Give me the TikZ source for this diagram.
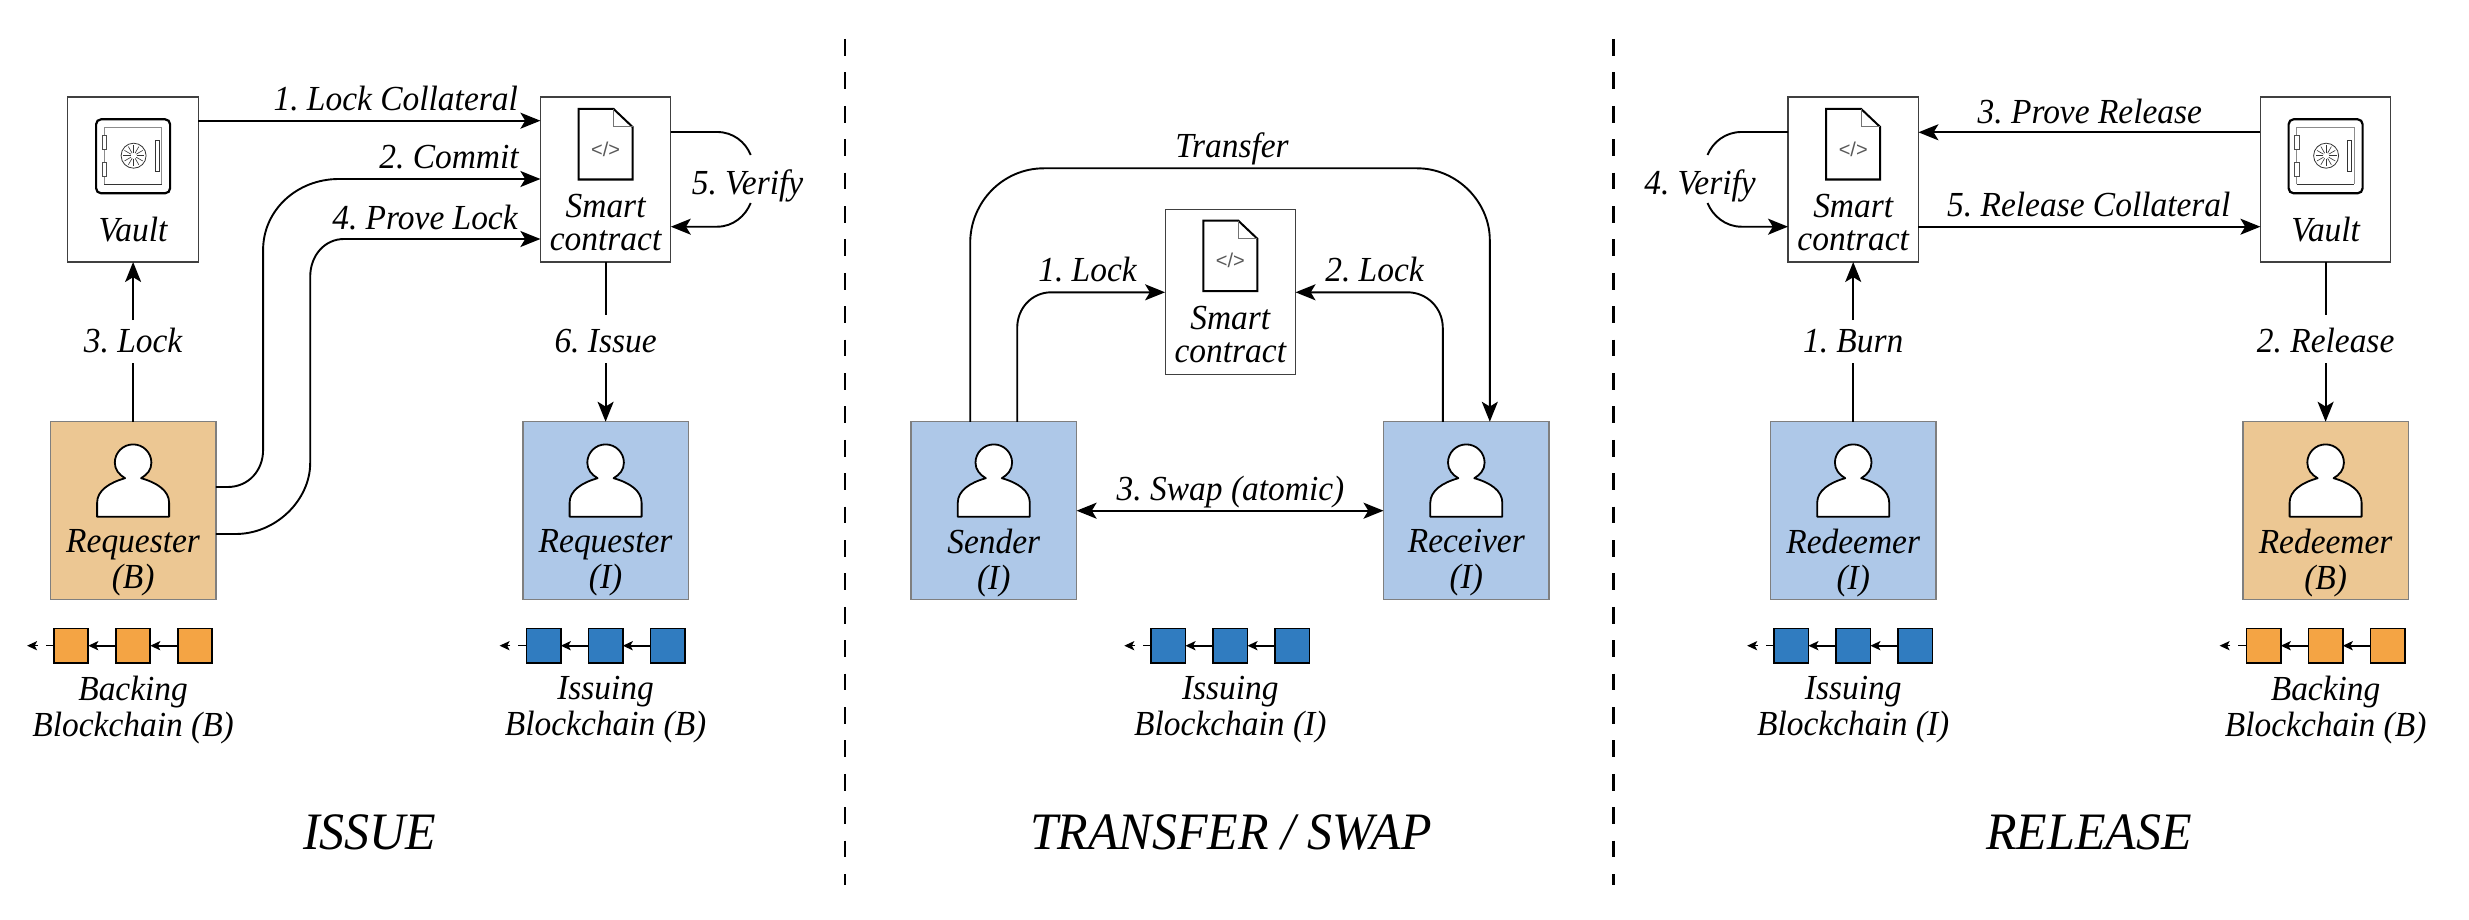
\documentclass[tikz,border=0pt]{standalone}
\usepackage{fontspec}
\setmainfont{Liberation Serif}[FakeStretch=0.95]
\newfontfamily\codefont{Liberation Sans}
\usetikzlibrary{arrows.meta,calc}
\definecolor{orangebox}{HTML}{ECC793}
\definecolor{bluebox}{HTML}{AEC8E8}
\definecolor{orangeblock}{HTML}{F4A444}
\definecolor{blueblock}{HTML}{307CC0}
\definecolor{edgegray}{HTML}{7F7F7F}
\tikzset{
  x=0.5pt,y=-0.5pt,
  bigtip/.tip={Stealth[length=10pt,width=8pt,inset=2.4pt]},
  smalltip/.tip={Stealth[length=5pt,width=4.6pt,inset=1.2pt]},
  conn/.style={line width=0.95pt,draw=black},
  arr/.style={conn,-{bigtip}},
  darr/.style={conn,{bigtip}-{bigtip}},
  txt/.style={inner sep=0pt,outer sep=0pt,align=center,font=\fontsize{17.6}{16.65}\selectfont\itshape},
  vlabelA/.style={inner sep=0pt,outer sep=0pt,font=\fontsize{17.6}{16.65}\selectfont\itshape,text height=16pt,text depth=5.5pt},
  vlabelB/.style={inner sep=0pt,outer sep=0pt,font=\fontsize{17.6}{16.65}\selectfont\itshape,text height=18.8pt,text depth=5.2pt},
  title/.style={inner sep=0pt,font=\fontsize{26.3}{30}\selectfont\itshape},
  personbox/.style={rectangle,inner sep=0pt,outer sep=0pt,minimum width=82.8pt,minimum height=88.75pt,draw=edgegray,line width=0.7pt,fill=#1},
  whitebox/.style={rectangle,inner sep=0pt,outer sep=0pt,minimum width=65.2pt,minimum height=82.5pt,draw=black!75,line width=0.55pt,fill=white},
  block/.style={rectangle,inner sep=0pt,outer sep=0pt,minimum size=17.2pt,draw=black,line width=0.9pt,fill=#1},
  chainarrow/.style={line width=0.85pt,-{smalltip}},
  divider/.style={line width=1.3pt,dash pattern=on 8.4pt off 8.3pt},
  personshape/.style={draw=black,line width=0.9pt,fill=white,line join=round},
}
\newcommand\personicon[1]{%
  \begin{scope}[shift={(#1,462.7)}]
    \path[personshape] (-36,54) -- (-36,40) .. controls (-36,28) and (-24,20) .. (-8,15.5)
      .. controls (-14,12) and (-18.3,7) .. (-18.3,0)
      .. controls (-18.3,-10.1) and (-10.1,-18.3) .. (0,-18.3)
      .. controls (10.1,-18.3) and (18.3,-10.1) .. (18.3,0)
      .. controls (18.3,7) and (14,12) .. (8,15.5)
      .. controls (24,20) and (36,28) .. (36,40) -- (36,54) -- cycle;
  \end{scope}}
\newcommand\docicon[3]{%
  \begin{scope}[shift={(#2,#3)}]
    \draw[line width=1pt,line join=miter] (8,0) -- (-27,0) -- (-27,70.5) -- (27,70.5) -- (27,18) -- cycle;
    \draw[line width=0.5pt,draw=black!55] (8,0) -- (8,18) -- (27,18);
    \node[inner sep=0pt,text=black!65,font=\fontsize{10}{10}\selectfont\codefont] (#1) at (0,40) {</>};
  \end{scope}}
\newcommand\safeicon[1]{%
  \begin{scope}[shift={(#1,119.3)}]
    \draw[line width=1.1pt,rounded corners=2.5pt] (-37,0) rectangle (37,74);
    \draw[line width=0.5pt,draw=black!45] (-29,65) -- (-29,8.4) -- (28.5,8.4) -- (28.5,65);
    \draw[line width=0.5pt,draw=black!80] (-29,65) -- (28.5,65);
    \draw[line width=0.35pt,draw=black!70,fill=white] (-31,16.4) rectangle (-26.5,29.7);
    \draw[line width=0.35pt,draw=black!70,fill=white] (-31,43.4) rectangle (-26.5,57.4);
    \draw[line width=0.35pt,draw=black!80,fill=white] (21.8,21.4) rectangle (26.1,52.4);
    \draw[line width=0.4pt,draw=black!80] (0.5,36.4) circle[radius=12.5];
    \foreach \a in {0,30,...,330}
      \draw[line width=0.3pt,draw=black!80] ($(0.5,36.4)+(\a:3)$) -- ($(0.5,36.4)+(\a:10.5)$);
  \end{scope}}
\newcommand\chain[3]{%
  \node[block=#3] (#1a) at (#2-62,645.7) {};
  \node[block=#3] (#1b) at (#2,645.7) {};
  \node[block=#3] (#1c) at (#2+62,645.7) {};
  \coordinate (#1t) at (#2-106,645.7);
  \draw[chainarrow] (#1c.west) -- (#1b.east);
  \draw[chainarrow] (#1b.west) -- (#1a.east);
  \draw[line width=0.6pt,-{smalltip},dash pattern=on 4pt off 4pt] (#1a.west) -- (#1t);}
\begin{document}
\frenchspacing
\begin{tikzpicture}
\useasboundingbox (0,0) rectangle (2469,920);
\fill[white] (0,0) rectangle (2469,920);

% dividers
\coordinate (d1a) at (845,39); \coordinate (d1b) at (845,885);
\coordinate (d2a) at (1613.5,39); \coordinate (d2b) at (1613.5,885);
\draw[divider] (d1a) -- (d1b);
\draw[divider] (d2a) -- (d2b);

%%% ISSUE
\node[whitebox] (vaultA) at (133.1,179.5) {};
\node[whitebox] (scA) at (605.6,179.5) {};
\node[personbox=orangebox] (reqB) at (133.1,510.5) {};
\node[personbox=bluebox] (reqI) at (605.6,510.5) {};
\safeicon{133.1}
\docicon{codeA}{605.6}{109}
\personicon{133.1}
\personicon{605.6}
\node[txt] (vaultAt) at (133.1,234) {\strut Vault};
\node[txt] (scAt) at (605.6,227) {\strut Smart\\\strut contract};
\node[txt] (reqBt) at (133.1,564) {\strut Requester\\\strut (B)};
\node[txt] (reqIt) at (605.6,564) {\strut Requester\\\strut (I)};
\chain{cA}{133.1}{orangeblock}
\chain{cB}{605.6}{blueblock}
\node[txt] (chAt) at (133.1,711) {\strut Backing\\\strut Blockchain (B)};
\node[txt] (chBt) at (605.6,711) {\strut Issuing\\\strut Blockchain (B)};
\node[title] (tIssue) at (369.8,832) {ISSUE};

\node[txt] (l1) at (395.7,103) {\strut 1. Lock Collateral};
\node[txt] (l2) at (449,162) {\strut 2. Commit};
\node[txt] (l4) at (425,222) {\strut 4. Prove Lock};
\node[txt] (l5) at (747.5,187) {\strut 5. Verify};
\node[vlabelA] (l3) at (133.1,341.5) {3. Lock};
\node[vlabelB] (l6) at (605.6,339) {6. Issue};

\draw[arr] (vaultA.east |- 0,120.7) -- (scA.west |- 0,120.7);
\draw[arr] (reqB.east |- 0,487) -- (227.6,487) .. controls (249,487) and (263.1,470) .. (263.1,450)
  -- (263.1,250) .. controls (263.1,210) and (297,179) .. (338.8,179) -- (scA.west |- 0,179);
\draw[arr] (reqB.east |- 0,534) -- (235.6,534) .. controls (276,534) and (310.2,500) .. (310.2,463)
  -- (310.2,277) .. controls (310.2,255) and (325,239) .. (344,239) -- (scA.west |- 0,239);
\draw[conn] (scA.east |- 0,132) -- (717.3,132) .. controls (733,132) and (745.5,142) .. (750.7,155);
\draw[arr] (750.7,203) .. controls (745.5,216) and (733,226.7) .. (717.3,226.7) -- (scA.east |- 0,226.7);
\draw[conn] (reqB.north) -- (l3.south);
\draw[arr] (l3.north) -- (vaultA.south);
\draw[conn] (scA.south) -- (l6.north);
\draw[arr] (l6.south) -- (reqI.north);

%%% TRANSFER / SWAP
\node[whitebox] (scB) at (1230.3,292.2) {};
\node[personbox=bluebox] (sender) at (993.8,510.5) {};
\node[personbox=bluebox] (receiver) at (1466.3,510.5) {};
\docicon{codeB}{1230.3}{220.7}
\personicon{993.8}
\personicon{1466.3}
\node[txt] (scBt) at (1230.3,339) {\strut Smart\\\strut contract};
\node[txt] (sendert) at (993.8,564) {\strut Sender\\\strut (I)};
\node[txt] (receivert) at (1466.3,564) {\strut Receiver\\\strut (I)};
\chain{cC}{1230.3}{blueblock}
\node[txt] (chCt) at (1230.3,711) {\strut Issuing\\\strut Blockchain (I)};
\node[title] (tSwap) at (1231,832) {TRANSFER / SWAP};

\node[txt] (lT) at (1232,150) {\strut Transfer};
\node[txt] (lL1) at (1087.5,274) {\strut 1. Lock};
\node[txt] (lL2) at (1374.5,274) {\strut 2. Lock};
\node[txt] (lS) at (1230.5,493) {\strut 3. Swap (atomic)};

\draw[arr] (sender.north -| 970.2,0) -- (970.2,243) .. controls (970.2,202) and (1003,168.3) .. (1043.9,168.3)
  -- (1417,168.3) .. controls (1457,168.3) and (1489.8,202) .. (1489.8,240) -- (receiver.north -| 1489.8,0);
\draw[arr] (sender.north -| 1017.2,0) -- (1017.2,328) .. controls (1017.2,308) and (1032,292.3) .. (1051.2,292.3) -- (scB.west |- 0,292.3);
\draw[arr] (receiver.north -| 1442.8,0) -- (1442.8,328) .. controls (1442.8,308) and (1427,292.3) .. (1407.4,292.3) -- (scB.east |- 0,292.3);
\draw[darr] (sender.east |- 0,510.7) -- (receiver.west |- 0,510.7);

%%% RELEASE
\node[whitebox] (scC) at (1853.2,179.5) {};
\node[whitebox] (vaultC) at (2325.6,179.5) {};
\node[personbox=bluebox] (redI) at (1853.2,510.5) {};
\node[personbox=orangebox] (redB) at (2325.6,510.5) {};
\docicon{codeC}{1853.2}{109}
\safeicon{2325.6}
\personicon{1853.2}
\personicon{2325.6}
\node[txt] (scCt) at (1853.2,227) {\strut Smart\\\strut contract};
\node[txt] (vaultCt) at (2325.6,234) {\strut Vault};
\node[txt] (redIt) at (1853.2,564) {\strut Redeemer\\\strut (I)};
\node[txt] (redBt) at (2325.6,564) {\strut Redeemer\\\strut (B)};
\chain{cD}{1853.2}{blueblock}
\chain{cE}{2325.6}{orangeblock}
\node[txt] (chDt) at (1853.2,711) {\strut Issuing\\\strut Blockchain (I)};
\node[txt] (chEt) at (2325.6,711) {\strut Backing\\\strut Blockchain (B)};
\node[title] (tRelease) at (2089,832) {RELEASE};

\node[txt] (r3) at (2089.8,116.5) {\strut 3. Prove Release};
\node[txt] (r5) at (2088.8,209) {\strut 5. Release Collateral};
\node[txt] (r4) at (1700,187) {\strut 4. Verify};
\node[vlabelA] (r1) at (1853.2,341.5) {1. Burn};
\node[vlabelB] (r2) at (2325.6,339) {2. Release};

\draw[arr] (vaultC.west |- 0,132.3) -- (scC.east |- 0,132.3);
\draw[arr] (scC.east |- 0,226.7) -- (vaultC.west |- 0,226.7);
\draw[conn] (scC.west |- 0,132) -- (1741.4,132) .. controls (1725.5,132) and (1712.8,142) .. (1707.5,155);
\draw[arr] (1707.5,203) .. controls (1712.8,216) and (1725.5,226.7) .. (1741.4,226.7) -- (scC.west |- 0,226.7);
\draw[conn] (redI.north) -- (r1.south);
\draw[arr] (r1.north) -- (scC.south);
\draw[conn] (vaultC.south) -- (r2.north);
\draw[arr] (r2.south) -- (redB.north);
\end{tikzpicture}
\end{document}
